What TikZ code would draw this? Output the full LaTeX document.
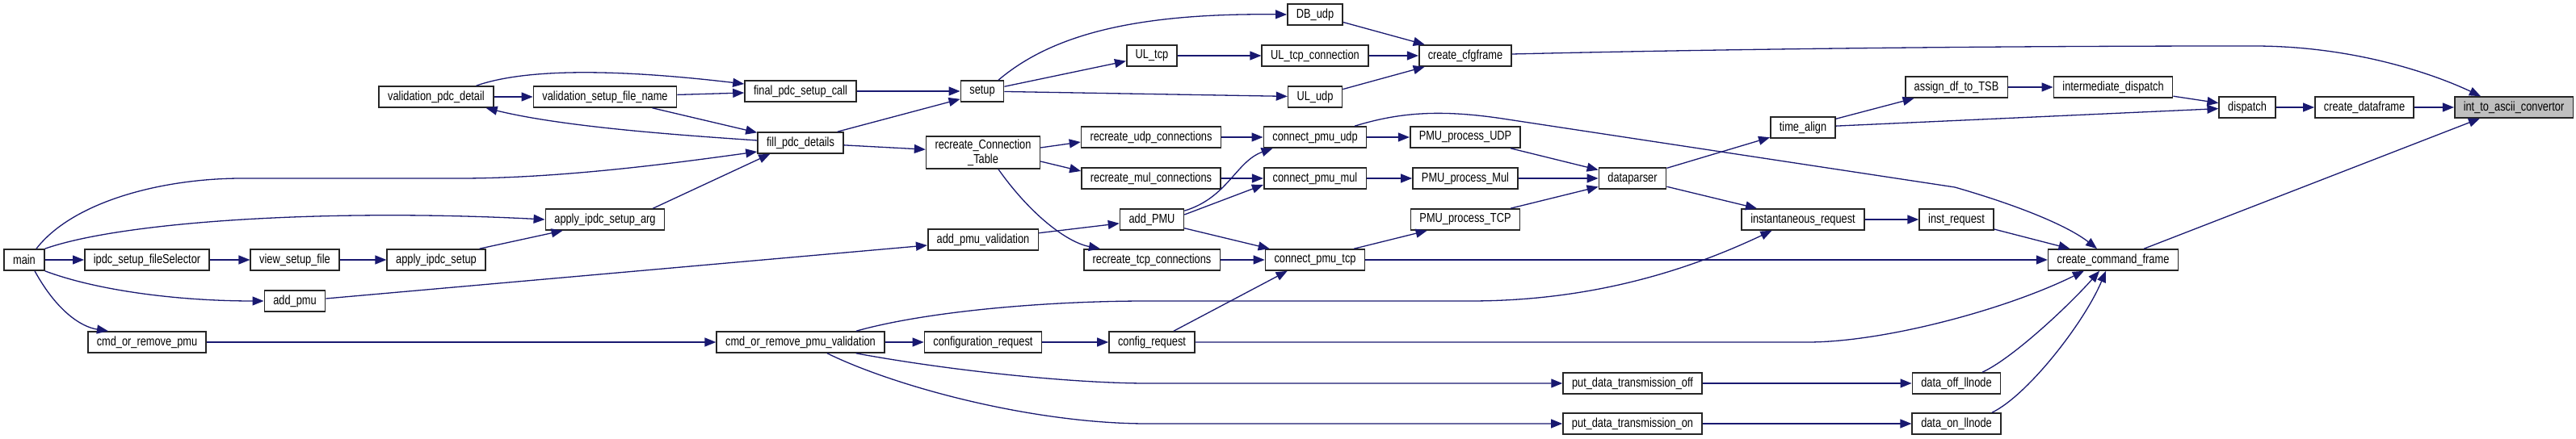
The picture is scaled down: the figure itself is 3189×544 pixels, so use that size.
\documentclass[tikz,border=0pt]{standalone}
\usepackage{fontspec}
\setmainfont{Liberation Sans}[FakeStretch=0.8]
\usepackage{xcolor}
\usepackage{tikz}
\usetikzlibrary{arrows.meta,calc}
\definecolor{edgeblue}{HTML}{191970}
\definecolor{hilite}{HTML}{BFBFBF}

\begin{document}
\begin{tikzpicture}[x=0.5pt,y=-0.5pt,
    fn/.style={draw=black!85,line width=0.8pt,fill=white,inner xsep=5.5pt,inner ysep=0pt,
               minimum height=13pt,font=\fontsize{8}{9}\selectfont},
    edge/.style={draw=edgeblue,line width=0.65pt,-{Triangle[length=7pt,width=5.5pt]}}]
  \useasboundingbox (0,0) rectangle (3189,544);
  % functions, left to right
  \node[fn] (main) at (30,322) {main};
  \node[fn] (isfs) at (182,322) {ipdc\_setup\_fileSelector};
  \node[fn] (vsf) at (365,322) {view\_setup\_file};
  \node[fn] (ais) at (540,322) {apply\_ipdc\_setup};
  \node[fn] (addpmu) at (365,373) {add\_pmu};
  \node[fn] (corp) at (182,424) {cmd\_or\_remove\_pmu};
  \node[fn] (vpd) at (540,120) {validation\_pdc\_detail};
  \node[fn] (vsfn) at (749,120) {validation\_setup\_file\_name};
  \node[fn] (aisa) at (749,272) {apply\_ipdc\_setup\_arg};
  \node[fn] (fpsc) at (991,113) {final\_pdc\_setup\_call};
  \node[fn] (fill) at (991,177) {fill\_pdc\_details};
  \node[fn] (corpv) at (991,424) {cmd\_or\_remove\_pmu\_validation};
  \node[fn] (setup) at (1216,113) {setup};
  \node[fn,align=center,minimum height=20pt] (rct) at (1217,189) {recreate\_Connection\\\_Table};
  \node[fn] (apv) at (1217,297) {add\_pmu\_validation};
  \node[fn] (cfgr) at (1217,424) {configuration\_request};
  \node[fn] (ultcp) at (1426,69) {UL\_tcp};
  \node[fn] (rudp) at (1425,170) {recreate\_udp\_connections};
  \node[fn] (rmul) at (1425,221) {recreate\_mul\_connections};
  \node[fn] (addPMU) at (1426,272) {add\_PMU};
  \node[fn] (rtcp) at (1426,322) {recreate\_tcp\_connections};
  \node[fn] (cr) at (1426,424) {config\_request};
  \node[fn] (dbudp) at (1628,18) {DB\_udp};
  \node[fn] (ultcpc) at (1628,69) {UL\_tcp\_connection};
  \node[fn] (uludp) at (1628,120) {UL\_udp};
  \node[fn] (cpudp) at (1628,170) {connect\_pmu\_udp};
  \node[fn] (cpmul) at (1628,221) {connect\_pmu\_mul};
  \node[fn] (cptcp) at (1628,322) {connect\_pmu\_tcp};
  \node[fn] (cfg) at (1814,69) {create\_cfgframe};
  \node[fn] (pudp) at (1814,170) {PMU\_process\_UDP};
  \node[fn] (pmul) at (1814,221) {PMU\_process\_Mul};
  \node[fn] (ptcp) at (1814,272) {PMU\_process\_TCP};
  \node[fn] (dp) at (2021,221) {dataparser};
  \node[fn] (pdoff) at (2021,475) {put\_data\_transmission\_off};
  \node[fn] (pdon) at (2021,525) {put\_data\_transmission\_on};
  \node[fn] (ta) at (2232,158) {time\_align};
  \node[fn] (ir) at (2232,272) {instantaneous\_request};
  \node[fn] (adt) at (2422,108) {assign\_df\_to\_TSB};
  \node[fn] (inst) at (2422,272) {inst\_request};
  \node[fn] (doff) at (2422,475) {data\_off\_llnode};
  \node[fn] (don) at (2422,525) {data\_on\_llnode};
  \node[fn] (idisp) at (2616,108) {intermediate\_dispatch};
  \node[fn] (ccf) at (2616,322) {create\_command\_frame};
  \node[fn] (disp) at (2782,133) {dispatch};
  \node[fn] (cdf) at (2927,133) {create\_dataframe};
  \node[fn,fill=hilite] (itoa) at (3112,133) {int\_to\_ascii\_convertor};

  % calls from main
  \draw[edge] (main) -- (isfs);
  \draw[edge] (isfs) -- (vsf);
  \draw[edge] (vsf) -- (ais);
  \draw[edge] ($(ais.north east)+(-8,0)$) -- ($(aisa.south west)+(22,0)$);
  \draw[edge] ($(main.north)+(15,0)$) .. controls (90,250) and (200,221) .. (300,221) -- (570,221)
              .. controls (700,221) and (850,200) .. ($(fill.west)+(0,11)$);
  \draw[edge] (main.north east) .. controls (150,275) and (400,258) .. (aisa.west);
  \draw[edge] (main.south east) .. controls (120,360) and (220,373) .. (addpmu.west);
  \draw[edge] ($(main.south)+(13,0)$) .. controls (70,385) and (100,405) .. ($(corp.north west)+(26,0)$);
  \draw[edge] (corp) -- (corpv);
  \draw[edge] ($(addpmu.east)+(0,-3)$) -- ($(apv.west)+(0,7)$);

  % pdc setup
  \draw[edge] (vpd) -- (vsfn);
  \draw[edge] ($(vpd.north east)+(-22,0)$) .. controls (650,85) and (760,85) .. ($(fpsc.west)+(0,-9)$);
  \draw[edge] (vsfn) -- (fpsc);
  \draw[edge] (vsfn) -- (fill);
  \draw[edge] ($(fill.west)+(0,-3)$) .. controls (850,168) and (700,158) .. ($(vpd.south east)+(-10,0)$);
  \draw[edge] ($(aisa.north east)+(-15,0)$) -- ($(fill.south west)+(16,0)$);
  \draw[edge] (fpsc) -- (setup);
  \draw[edge] ($(fill.north east)+(-8,0)$) -- ($(setup.south west)+(0,-4)$);
  \draw[edge] (fill) -- (rct);

  % setup and cfg frame
  \draw[edge] ($(setup.north)+(20,0)$) .. controls (1300,45) and (1400,16) .. (dbudp.west);
  \draw[edge] (setup) -- (ultcp);
  \draw[edge] (setup) -- (uludp);
  \draw[edge] (ultcp) -- (ultcpc);
  \draw[edge] (dbudp) -- (cfg);
  \draw[edge] (ultcpc) -- (cfg);
  \draw[edge] (uludp) -- (cfg);
  \draw[edge] ($(cfg.east)+(0,-2)$) .. controls (2300,57) and (2700,57) .. (2790,57)
              .. controls (2920,57) and (3020,95) .. ($(itoa.north west)+(33,0)$);

  % connection tables
  \draw[edge] ($(rct.east)+(0,-6)$) -- ($(rudp.west)+(0,6)$);
  \draw[edge] ($(rct.east)+(0,11)$) -- ($(rmul.west)+(0,-9)$);
  \draw[edge] ($(rct.south)+(19,0)$) .. controls (1275,265) and (1320,300) .. ($(rtcp.north west)+(21,0)$);
  \draw[edge] (rudp) -- (cpudp);
  \draw[edge] (rmul) -- (cpmul);
  \draw[edge] (rtcp) -- (cptcp);
  \draw[edge] (apv) -- (addPMU);
  \draw[edge] ($(addPMU.north east)+(0,3)$) .. controls (1520,245) and (1530,200) .. ($(cpudp.south west)+(12,0)$);
  \draw[edge] ($(addPMU.east)+(0,-6)$) -- ($(cpmul.west)+(0,8)$);
  \draw[edge] ($(addPMU.south east)+(0,-3)$) -- ($(cptcp.north west)+(6,0)$);
  \draw[edge] ($(cr.north)+(27,0)$) -- ($(cptcp.south west)+(28,0)$);

  % command frames
  \draw[edge] (corpv) -- (cfgr);
  \draw[edge] (cfgr) -- (cr);
  \draw[edge] ($(corpv.north)+(69,0)$) .. controls (1150,385) and (1300,373) .. (1420,373) -- (1820,373)
              .. controls (1980,373) and (2100,330) .. ($(ir.south west)+(38,0)$);
  \draw[edge] (cr.east) -- (2238,424) .. controls (2330,424) and (2480,385) .. ($(ccf.south west)+(45,0)$);
  \draw[edge] ($(corpv.south east)+(-36,0)$) .. controls (1180,460) and (1330,475) .. (1420,475) -- (pdoff.west);
  \draw[edge] ($(corpv.south)+(33,0)$) .. controls (1110,480) and (1280,525) .. (1420,525) -- (pdon.west);
  \draw[edge] (pdoff) -- (doff);
  \draw[edge] (pdon) -- (don);
  \draw[edge] ($(doff.north)+(32,0)$) .. controls (2490,445) and (2560,380) .. ($(ccf.south)+(-17,0)$);
  \draw[edge] ($(don.north)+(44,0)$) .. controls (2510,490) and (2580,400) .. ($(ccf.south)+(-9,0)$);

  % data path
  \draw[edge] (cpudp) -- (pudp);
  \draw[edge] (cpmul) -- (pmul);
  \draw[edge] ($(cptcp.north east)+(-14,0)$) -- ($(ptcp.south west)+(21,0)$);
  \draw[edge] ($(cpudp.north)+(49,0)$) .. controls (1730,140) and (1780,135) .. (1860,147) -- (2420,232)
              .. controls (2500,255) and (2560,280) .. ($(ccf.north)+(-20,0)$);
  \draw[edge] (cptcp) -- (ccf);
  \draw[edge] (pudp) -- (dp);
  \draw[edge] (pmul) -- (dp);
  \draw[edge] (ptcp) -- (dp);
  \draw[edge] (dp) -- (ta);
  \draw[edge] (dp) -- (ir);
  \draw[edge] (ta) -- (adt);
  \draw[edge] (ta) -- (disp);
  \draw[edge] (adt) -- (idisp);
  \draw[edge] (idisp) -- (disp);
  \draw[edge] (disp) -- (cdf);
  \draw[edge] (cdf) -- (itoa);
  \draw[edge] (ir) -- (inst);
  \draw[edge] (inst) -- (ccf);
  \draw[edge] ($(ccf.north east)+(-43,0)$) -- ($(itoa.south west)+(32,0)$);
\end{tikzpicture}
\end{document}
